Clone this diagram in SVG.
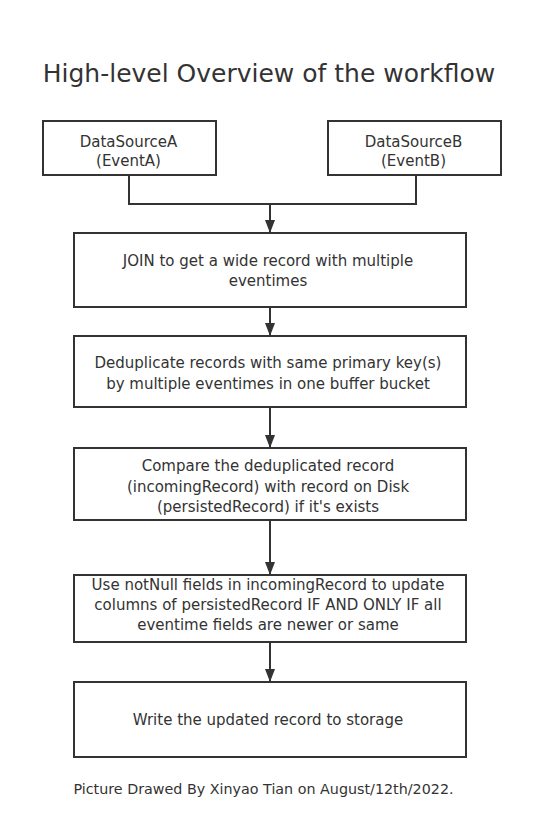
<svg xmlns="http://www.w3.org/2000/svg" width="540" height="832" viewBox="0 0 540 832">
<style>
.box{fill:#fff;stroke:#333;stroke-width:2}
.t{font-family:"DejaVu Sans","Liberation Sans",sans-serif;font-size:15px;fill:#333;text-anchor:middle}
.title{font-family:"DejaVu Sans","Liberation Sans",sans-serif;font-size:25px;fill:#333;text-anchor:middle}
.foot{font-family:"DejaVu Sans","Liberation Sans",sans-serif;font-size:14.3px;fill:#333;text-anchor:middle}
.c{fill:none;stroke:#333;stroke-width:2}
</style>
<defs>
<marker id="ah" markerWidth="13" markerHeight="10" refX="13" refY="5" orient="auto" markerUnits="userSpaceOnUse">
<path d="M0,0 L13,5 L0,10 z" fill="#333"/>
</marker>
</defs>
<rect width="540" height="832" fill="#fff"/>
<text class="title" x="269" y="82">High-level Overview of the workflow</text>
<g id="connectors">
<path class="c" d="M129,175 V204 H416 V175"/>
<path class="c" d="M270,204 V233" marker-end="url(#ah)"/>
<path class="c" d="M270,307 V336" marker-end="url(#ah)"/>
<path class="c" d="M270,407 V448" marker-end="url(#ah)"/>
<path class="c" d="M270,520 V575" marker-end="url(#ah)"/>
<path class="c" d="M270,642 V682" marker-end="url(#ah)"/>
</g>
<g id="sourceA">
<rect class="box" x="43" y="121" width="173" height="54"/>
<text class="t" x="128.5" y="147">DataSourceA</text>
<text class="t" x="128.5" y="166">(EventA)</text>
</g>
<g id="sourceB">
<rect class="box" x="328" y="121" width="173" height="54"/>
<text class="t" x="413.5" y="147">DataSourceB</text>
<text class="t" x="413.5" y="166">(EventB)</text>
</g>
<g id="join">
<rect class="box" x="74" y="233" width="392" height="74"/>
<text class="t" x="268" y="266">JOIN to get a wide record with multiple</text>
<text class="t" x="268" y="286">eventimes</text>
</g>
<g id="dedup">
<rect class="box" x="74" y="336" width="392" height="71"/>
<text class="t" x="268" y="368">Deduplicate records with same primary key(s)</text>
<text class="t" x="268" y="389">by multiple eventimes in one buffer bucket</text>
</g>
<g id="compare">
<rect class="box" x="74" y="448" width="392" height="72"/>
<text class="t" x="268" y="471">Compare the deduplicated record</text>
<text class="t" x="268" y="492">(incomingRecord) with record on Disk</text>
<text class="t" x="268" y="512">(persistedRecord) if it's exists</text>
</g>
<g id="update">
<rect class="box" x="74" y="575" width="392" height="67"/>
<text class="t" x="268" y="590">Use notNull fields in incomingRecord to update</text>
<text class="t" x="268" y="610">columns of persistedRecord IF AND ONLY IF all</text>
<text class="t" x="268" y="630">eventime fields are newer or same</text>
</g>
<g id="write">
<rect class="box" x="74" y="682" width="392" height="75"/>
<text class="t" x="268" y="725">Write the updated record to storage</text>
</g>
<text class="foot" x="263.5" y="794">Picture Drawed By Xinyao Tian on August/12th/2022.</text>
</svg>
